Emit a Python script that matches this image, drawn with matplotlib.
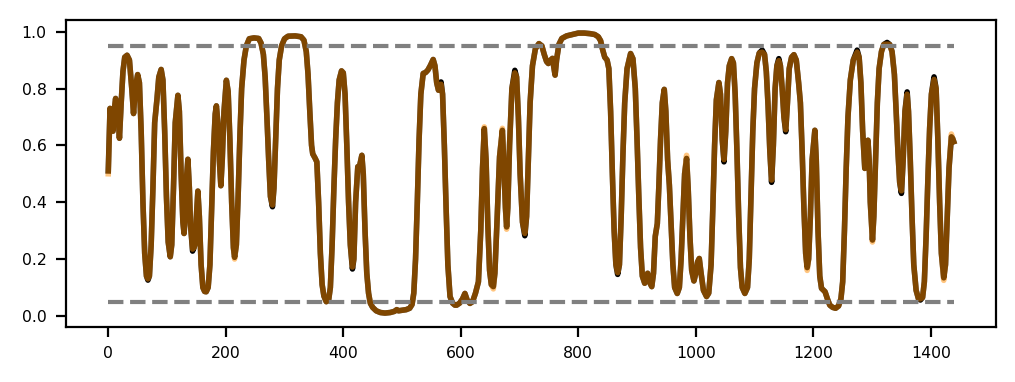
import matplotlib
matplotlib.use("Agg")
import matplotlib.pyplot as plt

# minute of day
minutes = [
    0, 3, 6, 8, 10, 12.5, 15, 17, 19, 22, 25, 28, 32, 36, 40, 43, 46, 50, 53, 56,
    59, 62, 65, 67.5, 70, 73, 76, 79, 83, 86, 90, 93, 96, 99, 102, 105.5, 108, 111, 114, 118.5,
    121, 124, 127, 129, 131, 133, 135.5, 138, 140, 143.5, 146, 148, 150, 152.5, 155, 158, 161, 164, 166.7, 170,
    173, 176, 179, 182, 184, 187, 189, 191.6, 194, 197, 201, 204, 207, 210, 213, 215, 218, 221, 224, 227,
    231, 235, 240, 248, 256, 260, 264, 267, 270, 273, 276, 279.5, 282, 285, 288, 291, 295, 300, 306, 318,
    328, 333, 337, 340, 343, 346, 348, 352, 355, 358, 361, 364, 367, 371, 375, 378, 381, 384, 387, 390,
    393, 397, 400, 403, 406, 409, 412, 415.6, 418, 421, 424.7, 427, 431.6, 434, 437, 440, 443, 446, 450, 456,
    463, 471, 480, 487, 491, 494, 500, 507, 513, 517, 520, 523, 526, 529, 532, 536, 540, 544, 548, 553,
    556, 559, 562, 564, 566.4, 569, 572, 575, 578, 581.7, 586, 590, 593, 598, 603, 607, 611, 615.6, 620, 625,
    630, 634, 637, 640, 643, 646, 649, 652, 655.4, 658, 662, 666, 670.8, 673, 676, 678, 680, 683, 687, 692,
    695, 698, 701, 705, 709, 712, 715, 718, 722, 727, 733, 738, 742, 746, 749, 753, 756, 758, 760.5, 763,
    767, 772, 780, 790, 800, 810, 820, 828, 834, 838, 841, 845, 849, 852, 855, 858, 861, 864, 867, 870,
    873, 876, 879, 883, 889, 893, 897, 900, 903, 906, 909, 913, 916, 918, 921, 925, 928, 931, 934.5, 937,
    940, 943, 946.3, 949, 952, 955, 958, 961, 964, 968.4, 972, 975, 978, 981, 984.3, 987, 990, 993, 996.8, 1000,
    1003, 1005.9, 1009, 1013, 1018.3, 1022, 1026, 1029, 1032, 1035, 1039.3, 1042, 1045, 1048, 1051, 1054, 1057, 1061, 1064, 1067,
    1070, 1073, 1076, 1079, 1083.5, 1088, 1091, 1094, 1097, 1100, 1104, 1108, 1113, 1117, 1120, 1123, 1126, 1129, 1132, 1135,
    1138, 1141.3, 1144, 1147, 1150, 1153, 1156, 1159, 1163, 1167, 1171, 1175, 1178, 1181, 1184, 1187, 1189.6, 1192, 1195, 1198,
    1202.6, 1205, 1208, 1211, 1214, 1220, 1224, 1228, 1233, 1238, 1243, 1247, 1250, 1253, 1256, 1259, 1263, 1268, 1274.6, 1278,
    1281, 1284, 1287.6, 1290, 1293, 1295, 1297, 1300.7, 1303, 1306, 1309, 1312, 1316, 1320, 1325.6, 1330, 1334, 1338, 1341, 1344,
    1347, 1350, 1353, 1356, 1359.7, 1362, 1365, 1368, 1371, 1375, 1379, 1382.3, 1386, 1389, 1392, 1395, 1398, 1401, 1405.5, 1409,
    1412, 1415, 1418, 1422, 1425, 1428, 1431, 1435, 1437, 1439,
]

# observed probability (black)
observed = [
    0.51, 0.73, 0.68, 0.65, 0.72, 0.765, 0.72, 0.70, 0.625, 0.75, 0.86, 0.91, 0.917, 0.90, 0.80, 0.712, 0.80, 0.849, 0.82, 0.65,
    0.40, 0.22, 0.14, 0.126, 0.14, 0.25, 0.45, 0.68, 0.765, 0.84, 0.867, 0.83, 0.65, 0.42, 0.26, 0.208, 0.25, 0.45, 0.68, 0.776,
    0.72, 0.50, 0.33, 0.29, 0.35, 0.48, 0.551, 0.45, 0.32, 0.228, 0.24, 0.255, 0.35, 0.439, 0.35, 0.18, 0.10, 0.086, 0.085, 0.10,
    0.18, 0.38, 0.58, 0.71, 0.739, 0.67, 0.55, 0.458, 0.55, 0.72, 0.829, 0.79, 0.62, 0.40, 0.24, 0.206, 0.25, 0.42, 0.63, 0.80,
    0.90, 0.95, 0.975, 0.978, 0.976, 0.96, 0.92, 0.84, 0.70, 0.55, 0.42, 0.384, 0.45, 0.62, 0.80, 0.90, 0.95, 0.975, 0.984, 0.985,
    0.982, 0.97, 0.93, 0.85, 0.72, 0.60, 0.57, 0.555, 0.542, 0.40, 0.22, 0.11, 0.07, 0.05, 0.055, 0.10, 0.25, 0.45, 0.62, 0.75,
    0.83, 0.862, 0.855, 0.78, 0.60, 0.40, 0.25, 0.165, 0.20, 0.40, 0.525, 0.52, 0.565, 0.50, 0.30, 0.15, 0.08, 0.045, 0.03, 0.018,
    0.012, 0.01, 0.012, 0.016, 0.022, 0.018, 0.02, 0.022, 0.027, 0.04, 0.08, 0.20, 0.40, 0.62, 0.78, 0.853, 0.856, 0.865, 0.88, 0.902,
    0.88, 0.82, 0.794, 0.80, 0.823, 0.78, 0.60, 0.38, 0.18, 0.068, 0.045, 0.038, 0.038, 0.045, 0.06, 0.079, 0.055, 0.044, 0.05, 0.08,
    0.12, 0.30, 0.52, 0.659, 0.55, 0.32, 0.16, 0.11, 0.103, 0.15, 0.35, 0.56, 0.653, 0.55, 0.38, 0.313, 0.38, 0.60, 0.80, 0.864,
    0.84, 0.70, 0.50, 0.33, 0.282, 0.35, 0.55, 0.75, 0.88, 0.94, 0.958, 0.95, 0.92, 0.895, 0.888, 0.90, 0.906, 0.88, 0.847, 0.90,
    0.955, 0.976, 0.985, 0.99, 0.995, 0.995, 0.993, 0.99, 0.982, 0.968, 0.94, 0.91, 0.90, 0.87, 0.72, 0.50, 0.30, 0.18, 0.146, 0.18,
    0.35, 0.57, 0.75, 0.87, 0.923, 0.905, 0.80, 0.62, 0.42, 0.24, 0.14, 0.115, 0.13, 0.15, 0.12, 0.103, 0.15, 0.28, 0.325, 0.45,
    0.62, 0.75, 0.797, 0.72, 0.55, 0.46, 0.32, 0.18, 0.10, 0.079, 0.10, 0.20, 0.35, 0.50, 0.554, 0.45, 0.28, 0.16, 0.123, 0.15,
    0.19, 0.202, 0.15, 0.09, 0.068, 0.08, 0.18, 0.38, 0.60, 0.76, 0.821, 0.78, 0.62, 0.542, 0.65, 0.82, 0.88, 0.905, 0.89, 0.78,
    0.58, 0.35, 0.17, 0.10, 0.079, 0.10, 0.20, 0.42, 0.65, 0.80, 0.89, 0.925, 0.935, 0.92, 0.86, 0.74, 0.58, 0.47, 0.60, 0.80,
    0.88, 0.905, 0.88, 0.80, 0.70, 0.648, 0.75, 0.87, 0.91, 0.919, 0.90, 0.82, 0.75, 0.58, 0.38, 0.22, 0.17, 0.20, 0.35, 0.55,
    0.653, 0.55, 0.30, 0.14, 0.097, 0.085, 0.06, 0.038, 0.03, 0.027, 0.035, 0.06, 0.12, 0.30, 0.52, 0.70, 0.83, 0.90, 0.935, 0.91,
    0.82, 0.65, 0.519, 0.59, 0.618, 0.55, 0.40, 0.267, 0.35, 0.55, 0.75, 0.87, 0.93, 0.955, 0.962, 0.955, 0.93, 0.85, 0.72, 0.58,
    0.47, 0.431, 0.55, 0.72, 0.788, 0.72, 0.55, 0.35, 0.18, 0.09, 0.06, 0.056, 0.065, 0.12, 0.28, 0.48, 0.66, 0.78, 0.841, 0.80,
    0.62, 0.40, 0.22, 0.134, 0.18, 0.35, 0.52, 0.63, 0.625, 0.613,
]

# points where the predicted (orange) curve departs from the observed one
predicted_diffs = {
    0: 0.50, 67.5: 0.13, 143.5: 0.235, 215: 0.20, 279.5: 0.39, 415.6: 0.172,
    566.4: 0.815, 640: 0.665, 655.4: 0.095, 670.8: 0.66, 678: 0.305, 692: 0.855,
    709: 0.29, 867: 0.152, 984.3: 0.565, 1048: 0.55, 1113: 0.928, 1129: 0.478,
    1141.3: 0.898, 1153: 0.655, 1189.6: 0.16, 1274.6: 0.928, 1300.7: 0.26,
    1325.6: 0.956, 1350: 0.44, 1359.7: 0.78, 1382.3: 0.06, 1405.5: 0.832,
    1422: 0.125, 1435: 0.64,
}
predicted = [predicted_diffs.get(m, v) for m, v in zip(minutes, observed)]

upper_threshold = 0.95
lower_threshold = 0.05
threshold_span = [0, 1439]

fig = plt.figure(figsize=(5.075, 1.91), dpi=200)
ax = fig.add_axes([66 / 1015, 1 - 327 / 382, (996 - 66) / 1015, (327 - 20) / 382])

ax.plot(minutes, observed, color="black", lw=2, zorder=2)
ax.plot(minutes, predicted, color="darkorange", lw=2, alpha=0.5, zorder=3)
ax.plot(threshold_span, [upper_threshold] * 2, "--", color="gray", lw=1.5, zorder=4)
ax.plot(threshold_span, [lower_threshold] * 2, "--", color="gray", lw=1.5, zorder=4)

ax.set_xlim(-71.95, 1510.95)
ax.set_ylim(-0.039, 1.041)
ax.set_xticks([0, 200, 400, 600, 800, 1000, 1200, 1400])
ax.set_yticks([0.0, 0.2, 0.4, 0.6, 0.8, 1.0])
ax.tick_params(labelsize=5.7)

fig.savefig("out.png", dpi=200)
